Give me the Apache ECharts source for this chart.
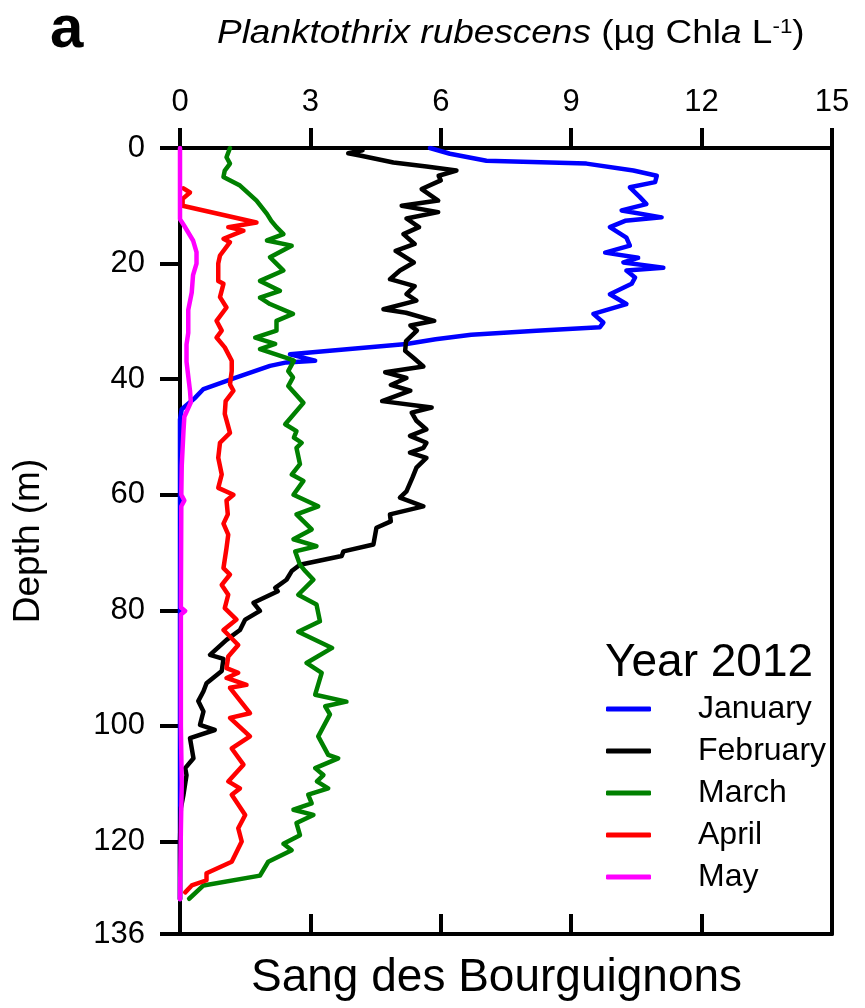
<!DOCTYPE html>
<html><head><meta charset="utf-8">
<script src="https://cdn.jsdelivr.net/npm/echarts@6/dist/echarts.min.js"></script>
<style>html,body{margin:0;padding:0;background:#fff}#c{width:865px;height:1008px}</style>
</head><body><div id="c"></div>
<script>
// ---- data ----
const months = ['January', 'February', 'March', 'April', 'May'];
const colors = ['#0000ff', '#000000', '#008000', '#ff0000', '#ff00ff'];
const xTicks = [0, 3, 6, 9, 12, 15];
const depthTicks = [0, 20, 40, 60, 80, 100, 120, 136];
// each point: [depth (m), P. rubescens (µg Chla L-1)]
const january = [
  [0, 5.75], [1.0, 6.21], [2.2, 7.05], [2.7, 9.35], [3.9, 10.43], [4.8, 10.97], [5.9, 10.93],
  [6.8, 10.35], [8.5, 10.58], [9.7, 10.73], [10.8, 10.16], [12.0, 11.08], [12.6, 10.24],
  [13.7, 9.89], [15.5, 10.27], [16.9, 10.35], [18.1, 9.78], [19.0, 10.54], [19.8, 10.2],
  [20.7, 11.12], [21.2, 10.27], [22.4, 10.47], [23.5, 10.39], [25.3, 9.89], [27.0, 10.27],
  [28.7, 9.51], [30.2, 9.74], [31.0, 9.66], [31.6, 8.2], [32.3, 6.7], [33.1, 5.88],
  [33.9, 5.21], [35.7, 2.53], [36.8, 3.11], [37.1, 2.45], [37.7, 2.07], [39.7, 1.3],
  [41.7, 0.54], [43.2, 0.35], [45.2, 0.04], [47, 0], [70, 0], [100, 0], [130, 0]
];
const february = [
  [0.4, 4.2], [0.9, 3.87], [1.3, 4.14], [2.5, 4.91], [3.2, 5.67], [3.9, 6.36], [4.8, 5.95],
  [5.6, 6.0], [7.1, 5.56], [9.1, 5.94], [10.0, 5.1], [11.1, 5.94], [12.2, 5.21], [13.7, 5.5],
  [14.9, 5.14], [16.6, 5.4], [17.8, 4.96], [19.8, 5.38], [21.2, 5.06], [22.7, 4.83],
  [23.9, 5.4], [25.3, 5.21], [26.4, 5.44], [27.9, 4.68], [28.5, 5.2], [29.9, 5.85],
  [30.7, 5.3], [31.6, 5.45], [33.4, 5.2], [35.1, 5.18], [36.3, 5.37], [37.8, 5.6],
  [38.8, 4.72], [39.8, 5.21], [41.0, 4.85], [42.0, 5.3], [43.8, 4.65], [44.9, 5.79],
  [45.8, 5.33], [47.2, 5.44], [48.7, 5.67], [49.8, 5.29], [51.0, 5.67], [51.9, 5.6],
  [52.7, 5.29], [53.6, 5.67], [55.3, 5.44], [57.0, 5.35], [59.4, 5.21], [60.5, 5.06],
  [62.0, 5.6], [63.4, 4.83], [64.6, 4.85], [65.7, 4.52], [68.6, 4.45], [69.8, 3.76],
  [70.6, 3.72], [72.1, 2.76], [73.2, 2.57], [74.7, 2.45], [76.1, 2.19], [76.7, 2.25],
  [78.7, 1.69], [80.1, 1.84], [81.6, 1.5], [83.4, 1.38], [85.1, 1.07], [87.7, 0.69],
  [88.4, 1.0], [90.5, 0.96], [92.6, 0.61], [94.0, 0.54], [95.7, 0.42], [97.5, 0.54],
  [99.8, 0.46], [100.7, 0.8], [102.1, 0.23], [105.6, 0.31], [107.3, 0.12], [108.5, 0.15],
  [111.9, 0.08], [114.2, 0.02], [120, 0], [130, 0]
];
const march = [
  [0, 1.15], [1.6, 1.07], [2.7, 1.15], [3.9, 1.03], [5.0, 1.0], [6.5, 1.38], [9.1, 1.76],
  [11.4, 2.0], [12.6, 2.1], [13.7, 2.22], [14.9, 2.38], [16.0, 2.0], [16.9, 2.57],
  [18.9, 2.07], [19.8, 2.19], [21.2, 2.38], [23.0, 1.84], [24.7, 2.3], [25.9, 1.84],
  [27.0, 2.07], [28.7, 2.6], [29.9, 2.22], [31.6, 2.22], [32.8, 1.73], [33.9, 2.19],
  [34.8, 1.84], [36.3, 2.45], [36.8, 2.62], [38.6, 2.49], [39.7, 2.6], [41.2, 2.49],
  [44.1, 2.84], [47.8, 2.42], [49.0, 2.68], [50.1, 2.62], [51.0, 2.8], [51.9, 2.68],
  [54.7, 2.76], [56.5, 2.57], [57.6, 2.84], [60.0, 2.61], [62.0, 3.18], [63.4, 2.68],
  [66.0, 3.03], [67.7, 2.61], [68.9, 3.14], [69.8, 2.65], [72.1, 2.76], [73.2, 2.88],
  [74.7, 3.07], [77.3, 2.72], [79.0, 3.14], [81.9, 3.22], [83.7, 2.72], [86.5, 3.5],
  [89.1, 2.91], [90.8, 3.26], [94.6, 3.11], [95.8, 3.83], [96.6, 3.34], [98.0, 3.45],
  [101.8, 3.18], [105.0, 3.41], [105.6, 3.64], [107.3, 3.11], [108.5, 3.3], [109.6, 3.15],
  [110.8, 3.41], [111.9, 2.95], [113.4, 3.03], [114.5, 2.61], [115.4, 3.07], [116.8, 2.68],
  [118.9, 2.76], [120.4, 2.38], [121.5, 2.57], [123.5, 2.03], [125.9, 1.84], [127.6, 0.54],
  [129.9, 0.21]
];
const april = [
  [7.0, 0.08], [7.7, 0.23], [8.8, 0.06], [10.0, 0.06], [12.9, 1.76], [13.7, 1.11],
  [14.3, 1.46], [15.7, 1.0], [16.3, 1.15], [18.6, 0.92], [20.0, 0.88], [23.0, 0.88],
  [23.5, 1.0], [25.8, 0.92], [27.6, 1.07], [29.9, 0.84], [31.6, 0.96], [32.8, 0.84],
  [34.5, 1.03], [36.8, 1.19], [38.6, 1.19], [40.9, 1.15], [42.0, 1.23], [43.8, 1.05],
  [46.0, 1.03], [49.3, 1.15], [51.0, 0.92], [53.6, 0.88], [56.5, 0.96], [58.8, 0.88],
  [60.0, 1.23], [61.0, 1.07], [63.4, 1.1], [65.0, 1.0], [66.9, 1.11], [69.2, 1.07],
  [72.7, 1.0], [73.8, 1.15], [75.6, 0.96], [77.3, 1.11], [79.6, 1.03], [81.6, 1.3],
  [83.4, 1.0], [86.0, 1.34], [88.0, 1.11], [90.0, 1.07], [90.8, 1.34], [91.7, 1.07],
  [92.9, 1.53], [93.4, 1.15], [97.8, 1.61], [98.6, 1.15], [101.8, 1.61], [103.9, 1.19],
  [106.7, 1.46], [109.6, 1.11], [110.8, 1.38], [111.9, 1.19], [115.4, 1.5], [117.7, 1.34],
  [120.0, 1.42], [123.5, 1.19], [125.5, 0.61], [126.7, 0.61], [127.6, 0.27], [128.8, 0.12]
];
const may = [
  [0, 0], [12.3, 0], [13.5, 0.1], [16.0, 0.3], [18.0, 0.38], [20.0, 0.38], [22.0, 0.3],
  [25.0, 0.27], [28.0, 0.19], [32.0, 0.19], [34.0, 0.15], [37.0, 0.15], [42.0, 0.23],
  [44.0, 0.25], [46.5, 0.1], [49.0, 0.08], [55.0, 0.04], [60.0, 0.03], [61.0, 0.1],
  [62.0, 0.03], [79.5, 0.02], [80.1, 0.12], [80.7, 0.02], [100.0, 0.02], [110.0, 0.04],
  [118.0, 0.02], [130.0, 0]
];
const profiles = [january, february, march, april, may];

// ---- chart ----
const FF = '"Liberation Sans", Arial, sans-serif';
const chart = echarts.init(document.getElementById('c'), null, {renderer: 'canvas'});
const axisLine = {show: true, onZero: false, lineStyle: {color: '#000', width: 4}};
const tickStyle = {color: '#000', width: 4};

chart.setOption({
  animation: false,
  backgroundColor: '#fff',
  grid: {left: 180, right: 33, top: 148, bottom: 74, containLabel: false},
  graphic: [
    {
      type: 'text', x: 217, y: 17, scaleX: 1.12, silent: true,
      style: {
        text: '{i|Planktothrix rubescens} {n|(µg Chl}{i|a}{n| L}{s|-1}{n|)}',
        fontFamily: FF, fontSize: 33, fill: '#000', align: 'left', verticalAlign: 'top',
        rich: {
          i: {fontFamily: FF, fontSize: 33, fontStyle: 'italic', fill: '#000'},
          n: {fontFamily: FF, fontSize: 33, fill: '#000'},
          s: {fontFamily: FF, fontSize: 20, fill: '#000', verticalAlign: 'top'}
        }
      }
    }
  ],
  title: [
    {text: 'a', left: 50, top: 0, padding: 0,
      textStyle: {fontFamily: FF, fontSize: 60, fontWeight: 'bold', color: '#000'}},
    {text: 'Year 2012', left: 605, top: 640, padding: 0,
      textStyle: {fontFamily: FF, fontSize: 46, fontWeight: 'normal', color: '#000'}},
    {text: 'Sang des Bourguignons', left: 251, top: 955, padding: 0,
      textStyle: {fontFamily: FF, fontSize: 46, fontWeight: 'normal', color: '#000'}}
  ],
  legend: {
    orient: 'vertical', left: 606, top: 693, padding: 0,
    itemWidth: 45, itemHeight: 5, itemGap: 10,
    icon: 'roundRect',
    data: months,
    textStyle: {fontFamily: FF, fontSize: 32, color: '#000', padding: [0, 0, 0, 42]}
  },
  xAxis: [
    {
      type: 'value', position: 'top', min: xTicks[0], max: xTicks[xTicks.length - 1], interval: 3,
      axisLine: axisLine,
      axisTick: {show: true, inside: false, length: 20, lineStyle: tickStyle},
      axisLabel: {fontFamily: FF, fontSize: 31, color: '#000', margin: 30},
      splitLine: {show: false}
    },
    {
      type: 'value', position: 'bottom', min: xTicks[0], max: xTicks[xTicks.length - 1], interval: 3,
      axisLine: axisLine,
      axisTick: {show: true, inside: true, length: 20, lineStyle: tickStyle},
      axisLabel: {show: false},
      splitLine: {show: false}
    }
  ],
  yAxis: [
    {
      type: 'value', position: 'left', inverse: true, min: 0, max: 136,
      axisLine: axisLine,
      axisTick: {show: true, inside: false, length: 20, lineStyle: tickStyle, customValues: depthTicks},
      axisLabel: {fontFamily: FF, fontSize: 31, color: '#000', margin: 35, customValues: depthTicks},
      splitLine: {show: false},
      name: 'Depth (m)', nameLocation: 'middle', nameRotate: 90, nameGap: 133,
      nameTextStyle: {fontFamily: FF, fontSize: 37, color: '#000'}
    },
    {
      type: 'value', position: 'right', inverse: true, min: 0, max: 136,
      axisLine: axisLine,
      axisTick: {show: false}, axisLabel: {show: false}, splitLine: {show: false}
    }
  ],
  series: profiles.map((p, i) => ({
    name: months[i], type: 'line', xAxisIndex: 0, yAxisIndex: 0,
    data: p.map(d => [d[1], d[0]]),
    symbol: 'none', smooth: false,
    lineStyle: {color: colors[i], width: 4.5, cap: 'round', join: 'round'},
    itemStyle: {color: colors[i]},
    z: 2 + i
  }))
});
</script></body></html>
